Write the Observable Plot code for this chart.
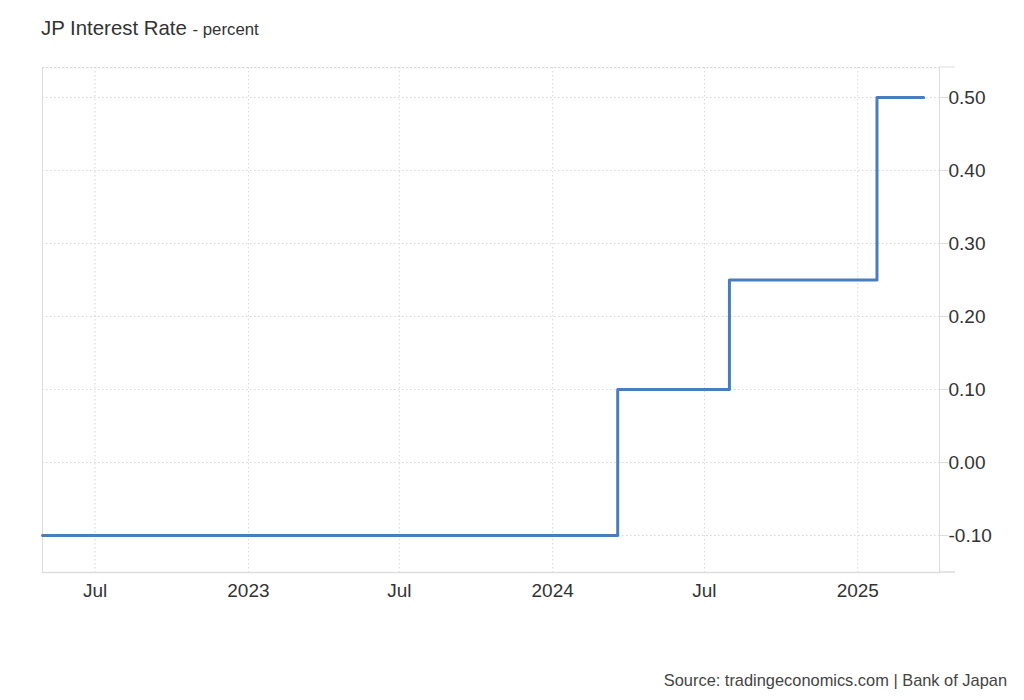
<!DOCTYPE html>
<html>
<head>
<meta charset="utf-8">
<script src="https://cdn.jsdelivr.net/npm/d3@7"></script>
<script src="https://cdn.jsdelivr.net/npm/@observablehq/plot@0.6"></script>
<style>
  body { margin: 0; background: #fff; font-family: "Liberation Sans", Arial, sans-serif; }
  #title { height: 50px; padding-left: 41px; box-sizing: border-box; padding-top: 17px; color: #333; font-size: 20.4px; line-height: 22px; }
  #title .unit { font-size: 16.8px; }
  #source { height: 40px; line-height: 40px; text-align: right; padding-right: 17px; font-size: 16.4px; color: #444; }
</style>
</head>
<body>
<div id="title">JP Interest Rate <span class="unit">- percent</span></div>
<div id="chart"></div>
<div id="source">Source: tradingeconomics.com | Bank of Japan</div>
<script>
// Policy rate change dates and values (step-after)
const dates = ["2022-04-29", "2024-03-19", "2024-07-31", "2025-01-24", "2025-03-21"];
const rates = [-0.10, 0.10, 0.25, 0.50, 0.50];
const xTickDates = ["2022-07-01", "2023-01-01", "2023-07-01", "2024-01-01", "2024-07-01", "2025-01-01"];
const yTicks = [-0.10, 0.00, 0.10, 0.20, 0.30, 0.40, 0.50];

const data = dates.map((d, i) => ({date: new Date(d), value: rates[i]}));
const xTicks = xTickDates.map(d => new Date(d));

const W = 1024, H = 610;
const mL = 42, mR = 85, mT = 17, mB = 88;

const plot = Plot.plot({
  width: W,
  height: H,
  marginLeft: mL,
  marginRight: mR,
  marginTop: mT,
  marginBottom: mB,
  style: {fontFamily: "'Liberation Sans', Arial, sans-serif", fontSize: "19px", color: "#333", background: "#fff"},
  x: {type: "utc", domain: [new Date("2022-04-29"), new Date("2025-04-09")], label: null},
  y: {domain: [-0.1507, 0.541], label: null},
  marks: [
    Plot.gridX(xTicks, {stroke: "#d6d6d6", strokeOpacity: 1, strokeDasharray: "1.5,2.5"}),
    Plot.gridY(yTicks, {stroke: "#d6d6d6", strokeOpacity: 1, strokeDasharray: "1.5,2.5"}),
    Plot.frame({anchor: "top", stroke: "#d6d6d6", strokeDasharray: "1.5,2.5"}),
    Plot.frame({anchor: "left", stroke: "#ddd"}),
    Plot.frame({anchor: "right", stroke: "#ddd"}),
    Plot.frame({anchor: "bottom", stroke: "#ddd", strokeWidth: 1.5}),
    Plot.axisX(xTicks, {
      label: null, tickSize: 0, tickPadding: 11, fontSize: 19, fill: "#333",
      tickFormat: d => d.getUTCMonth() === 0 ? String(d.getUTCFullYear()) : "Jul"
    }),
    Plot.axisY(yTicks, {
      label: null, anchor: "right", tickSize: 8, tickPadding: 1, stroke: "#ddd", fontSize: 19, fill: "#333",
      tickFormat: d => d.toFixed(2)
    }),
    Plot.line(data, {x: "date", y: "value", curve: "step-after", stroke: "#4a7ebb", strokeWidth: 3})
  ]
});

// small axis-line extensions past the right frame (as in the reference)
const svg = d3.select(plot);
const xr = W - mR;
svg.append("line").attr("x1", xr).attr("x2", xr + 16).attr("y1", H - mB).attr("y2", H - mB).attr("stroke", "#ddd").attr("stroke-width", 1.5);
svg.append("line").attr("x1", xr).attr("x2", xr + 16).attr("y1", mT).attr("y2", mT).attr("stroke", "#ddd");

document.getElementById("chart").appendChild(plot);
</script>
</body>
</html>
